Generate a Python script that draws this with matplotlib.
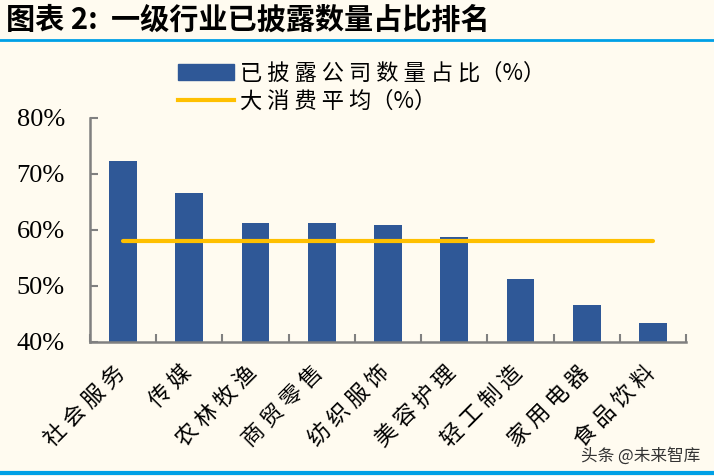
# 一级行业已披露数量占比排名
import numpy as np
import matplotlib.pyplot as plt
from matplotlib.lines import Line2D
from matplotlib.patches import Patch

plt.rcParams['font.family'] = ['Liberation Serif', 'Noto Sans CJK SC', 'DejaVu Sans']

# data
industries = ['社会服务', '传媒', '农林牧渔', '商贸零售', '纺织服饰', '美容护理', '轻工制造', '家用电器', '食品饮料']
ratio = [72.3, 66.6, 61.2, 61.2, 60.9, 58.8, 51.2, 46.6, 43.4]
consumer_avg = [58.1] * len(industries)
yticks = [40, 50, 60, 70, 80]

bg = '#FFFBF0'
bar_color = '#2F5897'
line_color = '#FFC000'
cjk = ['Noto Sans CJK SC', 'DejaVu Sans']

fig = plt.figure(figsize=(7.14, 4.76), dpi=100, facecolor=bg)
ax = fig.add_axes([90 / 714, 1 - 342 / 476, 596 / 714, 224 / 476], facecolor=bg)

x = np.arange(len(industries))
ax.bar(x, ratio, width=0.42, color=bar_color, zorder=2)
ax.plot(x, consumer_avg, color=line_color, lw=3, solid_capstyle='round', zorder=3)

ax.set_xlim(-0.5, len(industries) - 0.5)
ax.set_ylim(40, 80)
ax.set_yticks(yticks)
ax.set_yticklabels([f'{v}%' for v in yticks], fontsize=19)
ax.set_xticks(np.arange(len(industries) + 1) - 0.5)
ax.set_xticklabels([])
ax.tick_params(axis='x', direction='in', length=6, color='#808080', width=1.5)
ax.tick_params(axis='y', direction='in', length=6, color='#808080', width=1.5, pad=18)
for s in ['top', 'right']:
    ax.spines[s].set_visible(False)
for s in ['left', 'bottom']:
    ax.spines[s].set_color('#808080')
    ax.spines[s].set_linewidth(1.8)

for i, name in enumerate(industries):
    ax.text(i - 0.15, 36.6, ' '.join(name), rotation=45, ha='right', va='top',
            fontsize=16, family=cjk, rotation_mode='anchor')

handles = [Patch(color=bar_color), Line2D([], [], color=line_color, lw=3)]
fig.legend(handles, [' '.join('已披露公司数量占比') + '（%）', ' '.join('大消费平均') + '（%）'],
           loc='upper left', bbox_to_anchor=(158 / 714, 1 - 42 / 476),
           frameon=False, handlelength=2.5, handletextpad=0.3, labelspacing=0.2,
           prop={'family': cjk, 'size': 16})

fig.text(6 / 714, 1 - 20 / 476, '图表 2:  一级行业已披露数量占比排名', fontsize=21,
         fontweight='bold', style='italic', va='center', family=cjk)
fig.add_artist(Line2D([0, 1], [1 - 40 / 476, 1 - 40 / 476], color='#00A0E6', lw=2))
fig.add_artist(Line2D([0, 1], [1 - 473 / 476, 1 - 473 / 476], color='#00A0E6', lw=3))
fig.text(700 / 714, 1 - 456 / 476, '头条 @未来智库', fontsize=12, ha='right', va='center',
         color='#333333', family=cjk)

fig.savefig('out.png', dpi=100, facecolor=bg)
